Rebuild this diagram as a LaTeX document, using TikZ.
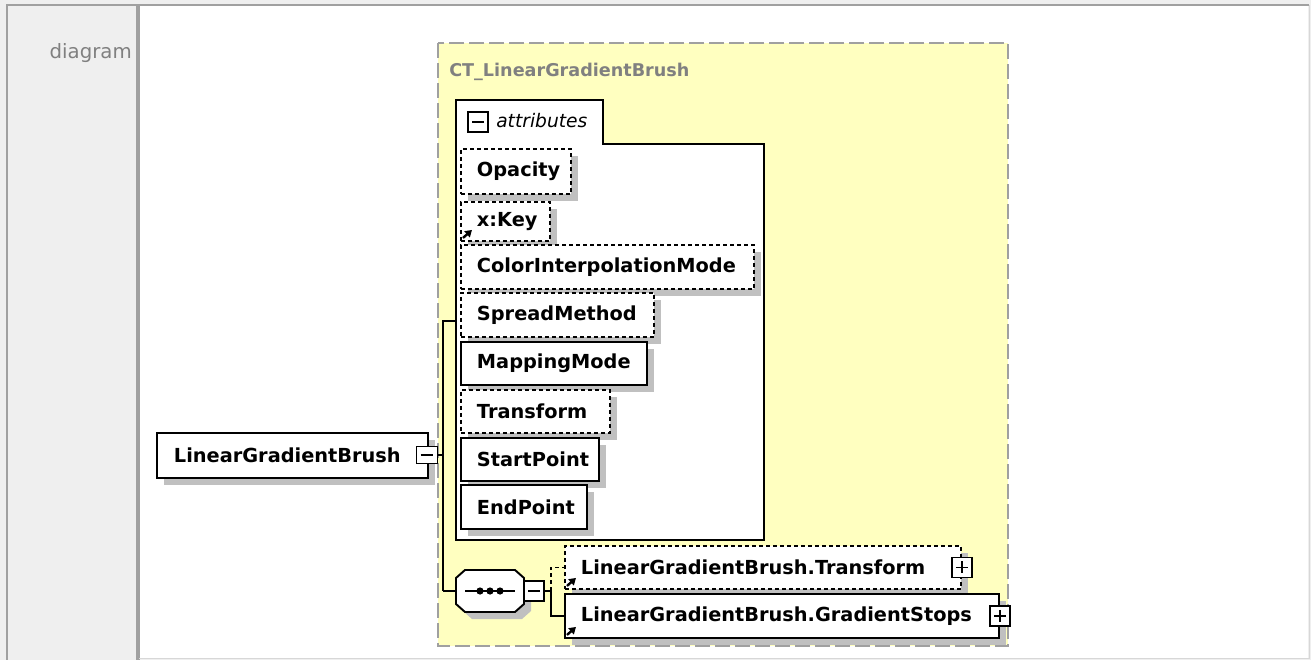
\documentclass[tikz,border=0pt]{standalone}
\usepackage{fontspec}
\setmainfont{DejaVu Sans}
\usetikzlibrary{shadows,arrows.meta}
\definecolor{yel}{HTML}{FFFFC0}
\definecolor{bord}{HTML}{A0A0A0}
\definecolor{cellbg}{HTML}{EFEFEF}
\definecolor{shad}{HTML}{C0C0C0}
\definecolor{ttl}{HTML}{808080}
\newcommand{\bxw}[3][16]{\makebox[\dimexpr #2pt*3/4\relax][l]{\hspace{\dimexpr #1pt*3/4\relax}#3}}
\begin{document}
\begin{tikzpicture}[x=0.75pt,y=-0.75pt,
  shdw/.style={general shadow={shadow xshift=5.25pt,shadow yshift=-5.25pt,fill=shad}},
  elem/.style={draw=black,line width=1.45pt,fill=white,inner sep=0pt,anchor=north west,
    font=\bfseries\fontsize{14.5}{17}\selectfont,shdw},
  optl/.style={dash pattern=on 3pt off 2.25pt},
  conn/.style={draw=black,line width=1.2pt},
  iconbox/.style={draw=black,fill=white,line width=1.2pt,minimum size=15pt,inner sep=0pt},
  minusbox/.style={iconbox,path picture={\draw[line width=1.2pt]
      ([xshift=3pt]path picture bounding box.west) -- ([xshift=-3pt]path picture bounding box.east);}},
  plusbox/.style={iconbox,path picture={\draw[line width=1.2pt]
      ([xshift=3pt]path picture bounding box.west) -- ([xshift=-3pt]path picture bounding box.east)
      ([yshift=-3pt]path picture bounding box.north) -- ([yshift=3pt]path picture bounding box.south);}},
  refarrow/.style={-{Triangle[length=5pt,width=6pt]},line width=1.8pt,draw=black}
]
\useasboundingbox (0,0) rectangle (1311,660);
% page background and table cells
\fill[cellbg] (0,0) rectangle (1311,660);
\fill[white] (139,5) rectangle (1308,658);
\draw[bord,line width=1.6pt] (7,660) -- (7,5) -- (137,5) -- (137,660);
\draw[bord,line width=1.6pt] (139,660) -- (139,5) -- (1309,5);
\draw[cellbg!90!black,line width=0.75pt] (1309,5) -- (1309,658) -- (139,658);
\node[anchor=base east,inner sep=0pt,text=ttl,font=\fontsize{14.8}{17}\selectfont] (diaglabel) at (132,59) {diagram};

% complex type region
\draw[bord,fill=yel,line width=1.5pt,dash pattern=on 11.25pt off 3.75pt] (438,43) rectangle (1008,646);
\node[anchor=west,inner sep=0pt,text=ttl,font=\bfseries\fontsize{13.2}{15}\selectfont] (title) at (449,72) {CT\_LinearGradientBrush};

% attributes frame
\draw[line width=1.45pt,fill=white] (456,100) -- (603,100) -- (603,144) -- (764,144) -- (764,540) -- (456,540) -- cycle;
\node[minusbox] (attrminus) at (478,122) {};
\node[anchor=west,inner sep=0pt,font=\itshape\fontsize{14}{17}\selectfont] (attrlabel) at (496,121) {attributes};

% connectors
\coordinate (j1) at (443,455);
\coordinate (j1top) at (443,321);
\coordinate (attrin) at (456,321);
\coordinate (j1bot) at (443,591);
\coordinate (j2) at (551,591);
\draw[conn] (attrin) -- (j1top) -- (j1bot);

% attribute boxes
\node[elem,optl,minimum height=33.75pt] (opacity) at (460,148) {\bxw{110}{Opacity}};
\node[elem,optl,minimum height=29.25pt] (xkey) at (460,201) {\bxw{89}{x:Key}};
\draw[refarrow] ([shift={(3,-4)}]xkey.south west) -- ++(9,-8);
\node[elem,optl,minimum height=33pt] (cim) at (460,244) {\bxw{293}{ColorInterpolationMode}};
\node[elem,optl,minimum height=33pt] (spread) at (460,292) {\bxw{193}{SpreadMethod}};
\node[elem,minimum height=32.25pt] (mapping) at (460,341) {\bxw{186}{MappingMode}};
\node[elem,optl,minimum height=32.25pt] (transform) at (460,389) {\bxw{149}{Transform}};
\node[elem,minimum height=32.25pt] (startpt) at (460,437) {\bxw{138}{StartPoint}};
\node[elem,minimum height=33pt] (endpt) at (460,484) {\bxw{126}{EndPoint}};

% root element
\node[elem,minimum height=33.75pt] (lgb) at (156,432) {\bxw[17]{271}{LinearGradientBrush}};
\node[minusbox,minimum width=15.5pt,minimum height=13pt] (lgbminus) at (427,455) {};
\draw[conn] (lgbminus.east) -- (j1);

% sequence compositor
\node[minimum width=51pt,minimum height=31.5pt,inner sep=0pt] (seq) at (490,591) {};
\draw[conn] (j1bot) -- (seq.west);
\begin{scope}[shift={(seq.center)}]
  \fill[shad] (-25+7,-21+7) -- (25+7,-21+7) -- (34+7,-13+7) -- (34+7,13+7) -- (25+7,21+7)
     -- (-25+7,21+7) -- (-34+7,13+7) -- (-34+7,-13+7) -- cycle;
  \filldraw[fill=white,draw=black,line width=1.45pt] (-25,-21) -- (25,-21) -- (34,-13) -- (34,13) -- (25,21)
     -- (-25,21) -- (-34,13) -- (-34,-13) -- cycle;
  \draw[line width=1.3pt] (-25,0) -- (25,0);
  \fill (-10,0) circle[radius=2.7pt];
  \fill (0,0) circle[radius=2.7pt];
  \fill (10,0) circle[radius=2.7pt];
\end{scope}
\node[minusbox] (seqminus) at (534,591) {};

% child elements
\node[elem,optl,minimum height=32.25pt] (reftransform) at (564,545) {\bxw{396}{LinearGradientBrush.Transform}};
\node[elem,minimum height=33pt] (refstops) at (564,593) {\bxw{434}{LinearGradientBrush.GradientStops}};
\draw[refarrow] ([shift={(3,-4)}]reftransform.south west) -- ++(9,-8);
\draw[refarrow] ([shift={(3,-4)}]refstops.south west) -- ++(9,-8);
\node[plusbox] (tplus) at (reftransform.east) {};
\node[plusbox] (splus) at (refstops.east) {};
\draw[conn] (seqminus.east) -- (j2);
\draw[conn,optl] (j2) |- (reftransform.west);
\draw[conn] (j2) |- (refstops.west);
\end{tikzpicture}
\end{document}
